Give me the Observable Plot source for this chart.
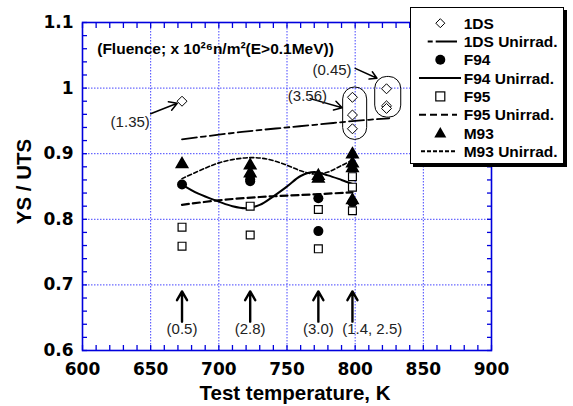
<!DOCTYPE html>
<html><head><meta charset="utf-8">
<script src="https://cdn.jsdelivr.net/npm/d3@7"></script>
<script src="https://cdn.jsdelivr.net/npm/@observablehq/plot@0.6"></script>
<style>
body{margin:0;background:#fff;font-family:"Liberation Sans",Arial,sans-serif;}
#wrap{position:relative;width:573px;height:406px;}
#legend{position:absolute;left:410px;top:7px;width:152px;height:155px;border:1.5px solid #000;background:#fff;box-shadow:3px 3px 0 #000;}
</style></head>
<body><div id="wrap"><div id="chart"></div><div id="legend"></div></div>
<script>
// ---- data ----
const ds1T = [673, 798, 798, 798, 823, 823, 823];
const ds1V = [0.980, 0.986, 0.959, 0.938, 0.999, 0.973, 0.969];

const f94T = [673, 723, 723, 773, 773, 798];
const f94V = [0.853, 0.858, 0.861, 0.832, 0.782, 0.826];

const f95T = [673, 673, 723, 723, 773, 773, 798, 798, 798];
const f95V = [0.788, 0.759, 0.820, 0.776, 0.815, 0.755, 0.865, 0.849, 0.813];

const m93T = [673, 723, 723, 773, 773, 798, 798, 798, 798];
const m93V = [0.884, 0.882, 0.870, 0.866, 0.862, 0.899, 0.885, 0.878, 0.829];

const ds1UT = [673, 700, 725, 750, 775, 800, 825];
const ds1UV = [0.922, 0.929, 0.935, 0.940, 0.945, 0.950, 0.954];

const f94UT = [673, 685, 700, 710, 720, 730, 740, 750, 760, 770, 780, 790, 798];
const f94UV = [0.853, 0.839, 0.827, 0.820, 0.817, 0.822, 0.835, 0.850, 0.866, 0.872, 0.867, 0.860, 0.854];

const f95UT = [673, 700, 730, 760, 798];
const f95UV = [0.822, 0.829, 0.834, 0.837, 0.841];

const m93UT = [673, 690, 700, 710, 723, 735, 748, 760, 770, 780, 790, 798];
const m93UV = [0.862, 0.878, 0.886, 0.891, 0.894, 0.892, 0.884, 0.874, 0.869, 0.872, 0.882, 0.890];

const xTicks = [600, 650, 700, 750, 800, 850, 900];
const yTicks = [0.6, 0.7, 0.8, 0.9, 1.0, 1.1];
const yTickLabels = ["0.6", "0.7", "0.8", "0.9", "1", "1.1"];

// fluence annotations
const fluT = [673, 723, 773, 798];
const fluLabel = ["(0.5)", "(2.8)", "(3.0)", "(1.4, 2.5)"];
const noteText = ["(1.35)", "(3.56)", "(0.45)"];
const noteX = [635, 765, 783];
const noteY = [0.948, 0.988, 1.028];
const noteArrowFrom = [[650, 0.961], [767, 0.984], [800, 1.030]];
const noteArrowTo = [[669.5, 0.977], [790.5, 0.970], [816, 1.015]];
const groupBoxes = [[791.2, 808.8, 0.921, 1.001], [814.7, 833.8, 0.955, 1.017]];
const fluenceTitle = "(Fluence; x 10²⁶n/m²(E>0.1MeV))";

// ---- build ----
const pts = (T, V) => T.map((t, i) => ({t, v: V[i]}));
const minorX = d3.range(600, 901, 10);
const minorY = d3.range(0.6, 1.1001, 0.02);
const BLUE = "#0000dd";
const GRID = "#4444ff";
const FONT = "'Liberation Sans', Arial, sans-serif";
const TICKFONT = "'DejaVu Sans', 'Liberation Sans', sans-serif";

const arrows = noteArrowFrom.map((f, i) => ({x1: f[0], y1: f[1], x2: noteArrowTo[i][0], y2: noteArrowTo[i][1]}));
const boxes = groupBoxes.map(b => ({x1: b[0], x2: b[1], y1: b[2], y2: b[3]}));
const flu = fluT.map((t, i) => ({t, label: fluLabel[i]}));
const notes = noteText.map((s, i) => ({s, x: noteX[i], y: noteY[i]}));

const chart = Plot.plot({
  width: 573, height: 406,
  marginLeft: 82, marginRight: 82, marginTop: 22, marginBottom: 56,
  style: {fontFamily: FONT, background: "white"},
  x: {domain: [600, 900]},
  y: {domain: [0.6, 1.1]},
  marks: [
    Plot.gridX(xTicks.slice(1, -1), {stroke: GRID, strokeOpacity: 1, strokeDasharray: "1.5,1.5", strokeWidth: 1}),
    Plot.gridY(yTicks.slice(1, -1), {stroke: GRID, strokeOpacity: 1, strokeDasharray: "1.5,1.5", strokeWidth: 1}),
    Plot.axisX(minorX, {anchor: "bottom", tickSize: -5, text: null, stroke: BLUE, strokeWidth: 1.3}),
    Plot.axisX(minorX, {anchor: "top", tickSize: -5, text: null, stroke: BLUE, strokeWidth: 1.3}),
    Plot.axisY(minorY, {anchor: "left", tickSize: -5, text: null, stroke: BLUE, strokeWidth: 1.3}),
    Plot.axisY(minorY, {anchor: "right", tickSize: -5, text: null, stroke: BLUE, strokeWidth: 1.3}),
    Plot.axisX(xTicks, {anchor: "bottom", tickSize: 0, tickPadding: 12, fontSize: 17, fontWeight: "bold", fill: "#000", label: null}),
    Plot.axisY(yTicks, {anchor: "left", tickSize: 0, tickPadding: 9, fontSize: 17, fontWeight: "bold", fill: "#000", label: null,
      tickFormat: d => yTickLabels[yTicks.findIndex(v => Math.abs(v - d) < 1e-9)]}),
    Plot.frame({stroke: BLUE, strokeWidth: 1.6}),
    // unirradiated curves
    Plot.line(pts(ds1UT, ds1UV), {x: "t", y: "v", stroke: "#000", strokeWidth: 1.8, strokeDasharray: "15,4,5,4", curve: "catmull-rom"}),
    Plot.line(pts(f94UT, f94UV), {x: "t", y: "v", stroke: "#000", strokeWidth: 2, curve: "catmull-rom"}),
    Plot.line(pts(f95UT, f95UV), {x: "t", y: "v", stroke: "#000", strokeWidth: 2.2, strokeDasharray: "7,4", curve: "catmull-rom"}),
    Plot.line(pts(m93UT, m93UV), {x: "t", y: "v", stroke: "#000", strokeWidth: 1.6, strokeDasharray: "4,2.5", curve: "catmull-rom"}),
    // irradiated points
    Plot.dot(pts(m93T, m93V), {x: "t", y: "v", symbol: "triangle2", r: 5.5, fill: "#000", stroke: "#000"}),
    Plot.dot(pts(f94T, f94V), {x: "t", y: "v", symbol: "circle", r: 5, fill: "#000"}),
    Plot.dot(pts(f95T, f95V), {x: "t", y: "v", symbol: "square2", r: 5, fill: "#fff", stroke: "#000", strokeWidth: 1.2}),
    Plot.dot(pts(ds1T, ds1V), {x: "t", y: "v", symbol: "diamond2", r: 4.5, fill: "#fff", stroke: "#000", strokeWidth: 1}),
    // annotations
    Plot.rect(boxes, {x1: "x1", x2: "x2", y1: "y1", y2: "y2", rx: 12, fill: "none", stroke: "#000", strokeWidth: 1}),
    Plot.arrow(arrows, {x1: "x1", y1: "y1", x2: "x2", y2: "y2", stroke: "#000", strokeWidth: 1.5, headLength: 9}),
    Plot.arrow(flu, {x1: "t", x2: "t", y1: () => 0.644, y2: () => 0.690, stroke: "#000", strokeWidth: 2.4, headLength: 11}),
    Plot.text(flu, {x: d => d.t + (d.label.length > 6 ? 14.5 : 0), y: () => 0.632, text: "label", fontSize: 15, fill: "#222"}),
    Plot.text(notes, {x: "x", y: "y", text: "s", fontSize: 15, fill: "#222"}),
    Plot.text([fluenceTitle], {x: () => 610.8, y: () => 1.060, text: d => d, textAnchor: "start", fontSize: 15.5, fontWeight: "bold", fill: "#000"}),
    Plot.text(["Test temperature, K"], {frameAnchor: "bottom", lineAnchor: "middle", textAnchor: "middle", dy: 43, dx: 8, text: d => d, fontSize: 20.5, fontWeight: "bold", fill: "#000"}),
    Plot.text(["YS / UTS"], {frameAnchor: "left", lineAnchor: "middle", textAnchor: "middle", dx: -58, dy: -5, rotate: -90, text: d => d, fontSize: 20.5, fontWeight: "bold", fill: "#000"})
  ]
});
// style axis tick labels directly on each text element
const tickStrings = new Set([...xTicks.map(String), ...yTickLabels]);
chart.querySelectorAll("text").forEach(el => {
  if (tickStrings.has(el.textContent.trim())) {
    el.setAttribute("font-family", TICKFONT);
    el.setAttribute("font-weight", "bold");
    el.setAttribute("font-size", "17");
    el.style.fontFamily = TICKFONT;
    el.style.fontWeight = "700";
    el.style.fontSize = "17px";
    el.setAttribute("fill", "#000");
  }
});
document.getElementById("chart").appendChild(chart);

// ---- legend ----
const legendItems = [
  {label: "1DS", kind: "diamond"},
  {label: "1DS Unirrad.", kind: "line", dash: "5,3,21,0", x1: 16.7, x2: 46},
  {label: "F94", kind: "circle"},
  {label: "F94 Unirrad.", kind: "line", dash: null, x1: 8, x2: 50},
  {label: "F95", kind: "square"},
  {label: "F95 Unirrad.", kind: "line", dash: "7,4", x1: 8, x2: 46},
  {label: "M93", kind: "triangle"},
  {label: "M93 Unirrad.", kind: "line", dash: "4,2", x1: 10, x2: 45}
];
const lg = d3.select("#legend").append("svg").attr("width", 152).attr("height", 155)
  .style("font-family", FONT);
legendItems.forEach((it, i) => {
  const y = 15.2 + i * 18.3, cx = 29.3;
  const g = lg.append("g");
  if (it.kind === "line") {
    g.append("line").attr("x1", it.x1).attr("x2", it.x2).attr("y1", y).attr("y2", y)
      .attr("stroke", "#000").attr("stroke-width", 2).attr("stroke-dasharray", it.dash);
  } else if (it.kind === "diamond") {
    g.append("path").attr("d", `M${cx},${y-4.5}L${cx+4.5},${y}L${cx},${y+4.5}L${cx-4.5},${y}Z`).attr("fill", "#fff").attr("stroke", "#000");
  } else if (it.kind === "circle") {
    g.append("circle").attr("cx", cx).attr("cy", y).attr("r", 5).attr("fill", "#000");
  } else if (it.kind === "square") {
    g.append("rect").attr("x", cx - 4.5).attr("y", y - 4.5).attr("width", 9).attr("height", 9).attr("fill", "#fff").attr("stroke", "#000").attr("stroke-width", 1.2);
  } else if (it.kind === "triangle") {
    g.append("path").attr("d", `M${cx},${y-6}L${cx+6},${y+4.5}L${cx-6},${y+4.5}Z`).attr("fill", "#000");
  }
  g.append("text").attr("x", 52.7).attr("y", y).attr("dy", "0.36em").attr("font-size", 15.5)
    .attr("font-weight", "bold").text(it.label);
});
</script></body></html>
